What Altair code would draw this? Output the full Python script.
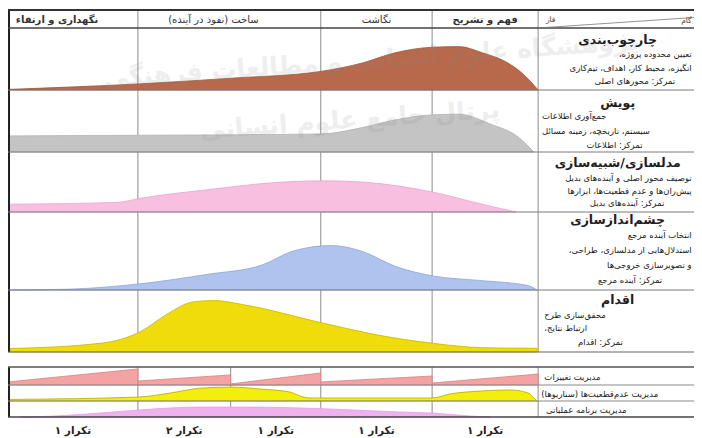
import altair as alt
import pandas as pd

RLM = "\u200f"

# ------------------------------------------------------------------ data
phase_names = ["فهم و تشریح", "نگاشت", "ساخت (نفوذ در آینده)", "نگهداری و ارتقاء"]
phase_bounds = [0, 20, 41, 75.5, 100]          # progress %, time runs right -> left
iter_bounds = [0, 20, 41, 58, 75.5, 100]
iter_labels = ["تکرار ۱", "تکرار ۱", "تکرار ۱", "تکرار ۲", "تکرار ۱"]
corner_labels = ["فاز", "گام"]

step_titles = ["چارچوب\u200cبندی", "پویش", "مدلسازی/شبیه\u200cسازی", "چشم\u200cاندازسازی", "اقدام"]
step_lines = [
    ["تعیین محدوده پروژه،", "انگیزه، محیط کار، اهداف، تیم\u200cکاری", "تمرکز: محورهای اصلی"],
    ["جمع\u200cآوری اطلاعات", "سیستم، تاریخچه، زمینه مسائل", "تمرکز: اطلاعات"],
    ["توصیف محور اصلی و آینده\u200cهای بدیل", "پیش\u200cران\u200cها و عدم قطعیت\u200cها، ابزارها", "تمرکز: آینده\u200cهای بدیل"],
    ["انتخاب آینده مرجع", "استدلال\u200cهایی از مدلسازی، طراحی،", "و تصویرسازی خروجی\u200cها", "تمرکز: آینده مرجع"],
    ["محقق\u200cسازی طرح", "ارتباط نتایج،", "تمرکز: اقدام"],
]
mgmt_titles = ["مدیریت تغییرات", "مدیریت عدم\u200cقطعیت\u200cها (سناریوها)", "مدیریت برنامه عملیاتی"]
watermark = ["پژوهشگاه علوم انسانی و مطالعات فرهنگی", "پرتال جامع علوم انسانی"]

# activity intensity per step (t = progress %, v = share of the row height)
frame_t = [100, 75, 58, 41, 33, 27, 20, 15, 10.5, 6, 3, 0]
frame_v = [0.01, 0.10, 0.19, 0.30, 0.44, 0.60, 0.69, 0.70, 0.60, 0.45, 0.27, 0.0]
scan_t = [100, 75, 41, 33.4, 26.8, 19.8, 15, 8.7, 4.2, 0.8]
scan_v = [0.26, 0.27, 0.29, 0.39, 0.52, 0.60, 0.61, 0.44, 0.27, 0.0]
model_t = [100, 79.4, 75, 62.5, 49.6, 40.8, 33.4, 19.8, 10.6, 4.2]
model_v = [0.13, 0.16, 0.23, 0.37, 0.49, 0.52, 0.50, 0.33, 0.13, 0.0]
vision_t = [100, 88.9, 75, 62.5, 52.1, 46.2, 39, 33.4, 26.8, 19.8, 10.6, 2.1, 0.2]
vision_v = [0.0, 0.01, 0.08, 0.20, 0.32, 0.50, 0.57, 0.50, 0.30, 0.18, 0.12, 0.06, 0.0]
action_t = [100, 82.6, 75, 70, 65, 61, 56, 40.8, 30, 19.8, 10.6, 0.2]
action_v = [0.055, 0.14, 0.33, 0.61, 0.81, 0.83, 0.77, 0.47, 0.27, 0.14, 0.07, 0.06]

# management rows
change_start = [0.61, 0.50, 0.67, 0.56, 0.89]   # value at the start (right edge) of each iteration
change_end = [0.11, 0.17, 0.06, 0.22, 0.17]     # value at the end (left edge) of each iteration
unc_t = [99.6, 75.3, 69.4, 63.8, 58.1, 52.5, 46.8, 44.9, 43, 20, 16.6, 10.9, 5.3, 1.9, 0.6, 0.2]
unc_v = [0.10, 0.25, 0.50, 0.80, 0.87, 0.75, 0.56, 0.31, 0.19, 0.19, 0.44, 0.62, 0.69, 0.50, 0.12, 0.0]
ops_t = [97.7, 92, 82.6, 75.3, 63.8, 54.3, 39.2, 26, 20, 12.8, 9]
ops_v = [0.0, 0.05, 0.25, 0.44, 0.62, 0.62, 0.50, 0.31, 0.25, 0.06, 0.0]

# ------------------------------------------------------------------ layout / style
W, H = 686, 430
LABEL_SPAN = 29.4            # width of the label column in progress units
FONT = "DejaVu Sans"
TOP = 2
HEADER_H = 18
STEP_H = [62, 62, 60, 78, 62]
GAP_H = 15
MGMT_H = [18, 16, 16]
ITER_LABEL_DY = 14

step_fill = ["#b8694b", "#c4c4c4", "#f9bfe0", "#afc3ee", "#efdc0a"]
step_stroke = ["#9c5a40", "#b3b3b3", "#e9a3cc", "#8ea6dc", "#c9b800"]
mgmt_fill = ["#f3a3a3", "#f4ee0c", "#f0b2ef"]
mgmt_stroke = ["#d98080", "#b9a800", "#e3a0e2"]

step_title_dy = [12, 13, 11, 8, 10]
step_line_dy = [[26, 40, 53], [26, 41, 55], [26, 39, 51], [23, 38, 53, 68], [25, 38, 52]]
step_line_pos = [
    [("right", .985), ("right", .985), ("center", .62)],
    [("left", .025), ("left", .025), ("center", .49)],
    [("right", .985), ("right", .985), ("center", .57)],
    [("right", .985), ("right", .985), ("right", .985), ("center", .59)],
    [("left", .04), ("left", .04), ("center", .40)],
]
step_title_pos = .51
header_weight = ["bold", "normal", "normal", "bold"]
header_nudge = [0, 0, 3, 3]
mgmt_pos = [.04, .02, .05]


def lab(f):
    """fraction across the label column -> progress units"""
    return -f * LABEL_SPAN


def rtl(s):
    return RLM + s + RLM


# bands
header_band = (TOP, TOP + HEADER_H)
step_bands = []
y = TOP + HEADER_H
for h in STEP_H:
    step_bands.append((y, y + h))
    y += h
steps_bottom = y
y += GAP_H
mgmt_top = y
mgmt_bands = []
for h in MGMT_H:
    mgmt_bands.append((y, y + h))
    y += h
mgmt_bottom = y
iter_label_y = mgmt_bottom + ITER_LABEL_DY

# ------------------------------------------------------------------ tables
area_rows = []
step_curves = [(frame_t, frame_v), (scan_t, scan_v), (model_t, model_v),
               (vision_t, vision_v), (action_t, action_v)]
for i, (ts, vs) in enumerate(step_curves):
    top, bot = step_bands[i]
    for t, v in zip(ts, vs):
        area_rows.append(dict(series=f"s{i}", seg=f"s{i}", t=t,
                              y=bot - v * (bot - top), y0=bot))
top, bot = mgmt_bands[0]
for k in range(5):
    area_rows.append(dict(series="m0", seg=f"m0_{k}", t=iter_bounds[k],
                          y=bot - change_start[k] * (bot - top), y0=bot))
    area_rows.append(dict(series="m0", seg=f"m0_{k}", t=iter_bounds[k + 1],
                          y=bot - change_end[k] * (bot - top), y0=bot))
for j, (ts, vs) in ((1, (unc_t, unc_v)), (2, (ops_t, ops_v))):
    top, bot = mgmt_bands[j]
    for t, v in zip(ts, vs):
        area_rows.append(dict(series=f"m{j}", seg=f"m{j}", t=t,
                              y=bot - v * (bot - top), y0=bot))
areas = pd.DataFrame(area_rows).sort_values(["seg", "t"])

series_dom = [f"s{i}" for i in range(5)] + [f"m{j}" for j in range(3)]

xs = alt.Scale(domain=[-LABEL_SPAN, 100], reverse=True, nice=False, zero=False)
ys = alt.Scale(domain=[0, H], reverse=True, nice=False, zero=False)

# rules
under, over = [], []
for b in phase_bounds[:-1]:
    under.append(dict(t1=b, t2=b, y1=header_band[0], y2=steps_bottom, c="#8c8c8c", w=1))
for b in iter_bounds[:-1]:
    under.append(dict(t1=b, t2=b, y1=mgmt_top, y2=mgmt_bottom, c="#8c8c8c", w=1))
for a, b2 in ((header_band[0], steps_bottom), (mgmt_top, mgmt_bottom)):
    over.append(dict(t1=100, t2=100, y1=a, y2=b2, c="#222222", w=4))
over.append(dict(t1=100, t2=-LABEL_SPAN, y1=header_band[0], y2=header_band[0], c="#333333", w=2))
over.append(dict(t1=100, t2=-LABEL_SPAN, y1=header_band[1], y2=header_band[1], c="#444444", w=1.5))
for (_, b2) in step_bands[:-1]:
    over.append(dict(t1=100, t2=-LABEL_SPAN, y1=b2, y2=b2, c="#7a7a7a", w=1))
over.append(dict(t1=100, t2=-LABEL_SPAN, y1=steps_bottom, y2=steps_bottom, c="#666666", w=1.2))
over.append(dict(t1=100, t2=-LABEL_SPAN, y1=mgmt_top, y2=mgmt_top, c="#555555", w=1.5))
for (_, b2) in mgmt_bands[:-1]:
    over.append(dict(t1=100, t2=-LABEL_SPAN, y1=b2, y2=b2, c="#888888", w=1))
over.append(dict(t1=100, t2=-LABEL_SPAN, y1=mgmt_bottom, y2=mgmt_bottom, c="#444444", w=1.5))
# diagonal of the corner cell
over.append(dict(t1=0, t2=-LABEL_SPAN, y1=header_band[1], y2=header_band[0] + 7.5, c="#777777", w=0.8))


def rule_layer(rows):
    return alt.Chart(pd.DataFrame(rows)).mark_rule().encode(
        x=alt.X("t1:Q", scale=xs, axis=None), x2="t2:Q",
        y=alt.Y("y1:Q", scale=ys, axis=None), y2="y2:Q",
        color=alt.Color("c:N", scale=None),
        strokeWidth=alt.StrokeWidth("w:Q", scale=None),
    )


# texts
texts = []
for i, name in enumerate(phase_names):
    c = (phase_bounds[i] + phase_bounds[i + 1]) / 2 + header_nudge[i]
    texts.append(dict(text=rtl(name), t=c, y=(header_band[0] + header_band[1]) / 2 + 1,
                      size=10, align="center", weight=header_weight[i], color="#333333"))
texts.append(dict(text=rtl(corner_labels[0]), t=lab(.05), y=header_band[0] + 10, size=7.5,
                  align="left", weight="normal", color="#444444"))
texts.append(dict(text=rtl(corner_labels[1]), t=lab(.985), y=header_band[0] + 10.5, size=7.5,
                  align="right", weight="normal", color="#444444"))
for i, title in enumerate(step_titles):
    top = step_bands[i][0]
    texts.append(dict(text=rtl(title), t=lab(step_title_pos), y=top + step_title_dy[i], size=12.5,
                      align="center", weight="bold", color="#1e1e1e"))
    for line, dy, (al, f) in zip(step_lines[i], step_line_dy[i], step_line_pos[i]):
        texts.append(dict(text=rtl(line), t=lab(f), y=top + dy, size=8.5,
                          align=al, weight="normal", color="#1a1a1a"))
for j, name in enumerate(mgmt_titles):
    a, b2 = mgmt_bands[j]
    texts.append(dict(text=rtl(name), t=lab(mgmt_pos[j]), y=(a + b2) / 2 + 0.5, size=8.5,
                      align="left", weight="normal", color="#1a1a1a"))
for k, name in enumerate(iter_labels):
    c = (iter_bounds[k] + iter_bounds[k + 1]) / 2
    texts.append(dict(text=rtl(name), t=c, y=iter_label_y, size=10.5,
                      align="center", weight="bold", color="#222222"))
tdf = pd.DataFrame(texts)

text_layers = []
for (al, wt), g in tdf.groupby(["align", "weight"]):
    text_layers.append(
        alt.Chart(g).mark_text(align=al, baseline="middle", fontWeight=wt, font=FONT).encode(
            x=alt.X("t:Q", scale=xs, axis=None),
            y=alt.Y("y:Q", scale=ys, axis=None),
            text="text:N",
            size=alt.Size("size:Q", scale=None),
            color=alt.Color("color:N", scale=None),
        )
    )

wm = pd.DataFrame(dict(text=[rtl(s) for s in watermark], t=[31.5, 35.5],
                       y=[step_bands[0][0] + 32, step_bands[1][0] + 30]))
wm_layer = alt.Chart(wm).mark_text(font=FONT, fontSize=25, fontWeight="bold", color="#8a8a8a",
                                   opacity=0.14, angle=356, align="center", baseline="middle").encode(
    x=alt.X("t:Q", scale=xs, axis=None), y=alt.Y("y:Q", scale=ys, axis=None), text="text:N")

area_layer = alt.Chart(areas).mark_area(interpolate="monotone", strokeWidth=0.8).encode(
    x=alt.X("t:Q", scale=xs, axis=None),
    y=alt.Y("y:Q", scale=ys, axis=None),
    y2="y0:Q",
    color=alt.Color("series:N", scale=alt.Scale(domain=series_dom, range=step_fill + mgmt_fill), legend=None),
    stroke=alt.Stroke("series:N", scale=alt.Scale(domain=series_dom, range=step_stroke + mgmt_stroke), legend=None),
    detail="seg:N",
)

chart = alt.layer(
    rule_layer(under), area_layer, rule_layer(over), wm_layer, *text_layers
).properties(
    width=W, height=H, padding=0, autosize=alt.AutoSizeParams(type="none"), background="white"
).configure_view(stroke=None)

chart.save("out.html", embed_options={"renderer": "svg", "actions": False})
